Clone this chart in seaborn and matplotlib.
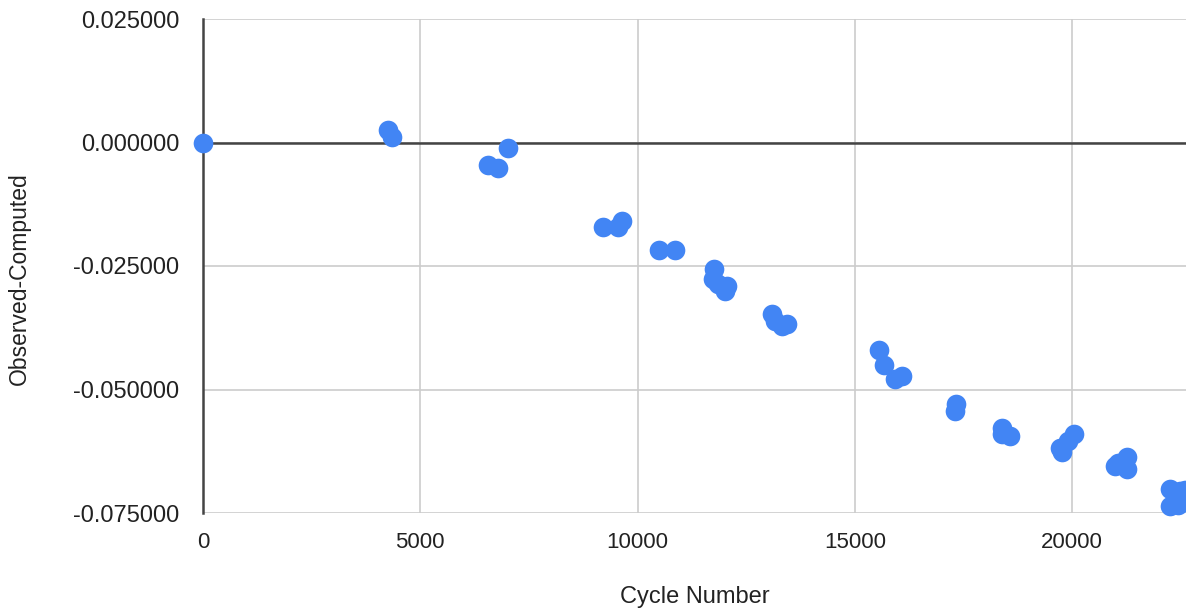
import numpy as np
import pandas as pd
import matplotlib
matplotlib.use("Agg")
import matplotlib.pyplot as plt
import seaborn as sns

# O-C values
cycle = [0, 4250, 4340, 6565, 6795, 7025,
         9212, 9557, 9634, 10500, 10861,
         11758, 11743, 11858, 12050, 12011,
         13086, 13162, 13431, 13316,
         15562, 15670, 15923, 16077,
         17319, 17303, 18377, 18377, 18569,
         19720, 19758, 20043, 19912,
         20985, 21062, 21255, 21255,
         22250, 22250, 22480, 22435, 22600, 22580]
o_c = [0.0, 0.00263, 0.00115, -0.0046, -0.00526, -0.00108,
       -0.01707, -0.01707, -0.01592, -0.02166, -0.0218,
       -0.0257, -0.0277, -0.0287, -0.0291, -0.0301,
       -0.0348, -0.0362, -0.0368, -0.0372,
       -0.0420, -0.0451, -0.0478, -0.0472,
       -0.0530, -0.0544, -0.0578, -0.0591, -0.0594,
       -0.0618, -0.0627, -0.0591, -0.0605,
       -0.0654, -0.0648, -0.0636, -0.0660,
       -0.0702, -0.0736, -0.0706, -0.0733, -0.0703, -0.0728]

x_ticks = [0, 5000, 10000, 15000, 20000]
y_ticks = [-0.075, -0.05, -0.025, 0.0, 0.025]

df = pd.DataFrame({"Cycle Number": cycle, "Observed-Computed": o_c})

sns.set_style("white")
plt.rcParams['font.family'] = ['Liberation Sans', 'DejaVu Sans']

fig = plt.figure(figsize=(11.86, 6.11), dpi=100)
ax = fig.add_axes([203/1186, 1 - 513/611, 1 - 203/1186, (513 - 19)/611])

sns.scatterplot(data=df, x="Cycle Number", y="Observed-Computed", ax=ax,
                color="#4285f4", s=200, linewidth=0, zorder=3, clip_on=False)

ax.set_xlim(0, 22620)
ax.set_ylim(-0.075, 0.025)
ax.set_xticks(x_ticks)
ax.set_yticks(y_ticks)
ax.set_yticklabels([f"{v:.6f}" for v in y_ticks])

ax.grid(True, color="#cccccc", linewidth=1.2)
ax.axhline(0, color="#444444", linewidth=1.8, zorder=2)
for side in ["top", "right", "bottom"]:
    ax.spines[side].set_visible(False)
ax.spines["left"].set_color("#444444")
ax.spines["left"].set_linewidth(1.8)
ax.spines["left"].set_zorder(2)

ax.tick_params(axis="y", length=9, color="#cccccc", width=1.2, pad=8,
               labelsize=17, labelcolor="#222222")
ax.tick_params(axis="x", length=0, pad=14, labelsize=16, labelcolor="#222222")

ax.set_xlabel("Cycle Number", fontsize=17, color="#222222")
ax.set_ylabel("Observed-Computed", fontsize=16.5, color="#222222")
ax.yaxis.set_label_coords(-(203 - 31) / (1186 - 203), 0.475)
ax.xaxis.set_label_coords(0.5, -0.148)

fig.savefig("out.png", dpi=100)
